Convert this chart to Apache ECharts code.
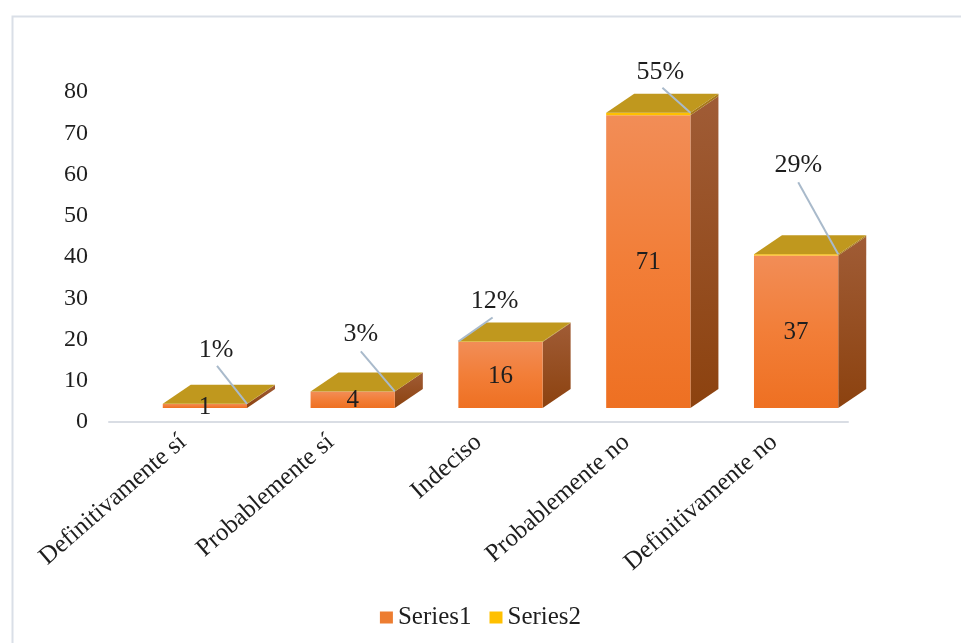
<!DOCTYPE html>
<html>
<head>
<meta charset="utf-8">
<script src="https://cdn.jsdelivr.net/npm/echarts@6/dist/echarts.min.js"></script>
<style>
  html, body { margin: 0; padding: 0; background: #ffffff; }
  #chart { width: 961px; height: 643px; }
</style>
</head>
<body>
<div id="chart"></div>
<script>
// Survey answers
const categories = ['Definitivamente sí', 'Probablemente sí', 'Indeciso', 'Probablemente no', 'Definitivamente no'];
// Series1: number of answers
const series1Values = [1, 4, 16, 71, 37];
// Series2: share of answers (shown as percentage, stacked on Series1)
const series2Values = [0.01, 0.03, 0.12, 0.55, 0.29];
// Value axis
const yMin = 0, yMax = 80, yStep = 10;

// 3D box look
const DEPTH_X = 28, DEPTH_Y = -19;
const BAR_FRAC = 0.57;
const FONT = '"Liberation Serif", "Times New Roman", serif';
const TEXT_COLOR = '#1e1e1e';

// Where each percentage label sits, relative to the top-right front corner of its box
const pctLabelSpots = [
  { text: [-31, -54], from: [-30, -38], to: 'right' },
  { text: [-34, -57], from: [-34, -40], to: 'right' },
  { text: [-48, -40], from: [-50, -24], to: 'left' },
  { text: [-30, -41], from: [-28, -25], to: 'right' },
  { text: [-40, -89], from: [-40, -72], to: 'right' }
];

function boxGeom(api, base, top) {
  const i = api.value(0);
  const p0 = api.coord([i, base]);
  const p1 = api.coord([i, top]);
  const w = api.size([1, 0])[0] * BAR_FRAC;
  return { x0: p0[0] - w / 2, x1: p0[0] + w / 2, yb: p0[1], yt: p1[1], cx: p0[0] };
}

function renderSeries1(params, api) {
  const v = api.value(1);
  const g = boxGeom(api, 0, v);
  return {
    type: 'group',
    children: [
      {
        type: 'polygon',
        shape: { points: [[g.x1, g.yt], [g.x1 + DEPTH_X, g.yt + DEPTH_Y], [g.x1 + DEPTH_X, g.yb + DEPTH_Y], [g.x1, g.yb]] },
        style: {
          fill: new echarts.graphic.LinearGradient(0, 0, 0, 1, [
            { offset: 0, color: '#A05C36' }, { offset: 1, color: '#8C420F' }
          ])
        }
      },
      {
        type: 'rect',
        shape: { x: g.x0, y: g.yt, width: g.x1 - g.x0, height: g.yb - g.yt },
        style: {
          fill: new echarts.graphic.LinearGradient(0, 0, 0, 1, [
            { offset: 0, color: '#F28D57' }, { offset: 0.5, color: '#F27E38' }, { offset: 1, color: '#EE7022' }
          ])
        }
      },
      {
        type: 'text',
        z2: 100,
        style: {
          text: String(v), x: g.cx, y: (g.yt + g.yb) / 2 + 1,
          align: 'center', verticalAlign: 'middle', font: '25px ' + FONT, fill: TEXT_COLOR
        }
      }
    ]
  };
}

function renderSeries2(params, api) {
  const v = api.value(1);
  const base = api.value(2);
  const g = boxGeom(api, base, base + v);
  const spot = pctLabelSpots[params.dataIndex];
  const rx = g.x1, ry = g.yt;
  const tx = spot.to === 'right' ? g.x1 : g.x0;
  return {
    type: 'group',
    children: [
      {
        type: 'polygon',
        shape: { points: [[g.x1, g.yt], [g.x1 + DEPTH_X, g.yt + DEPTH_Y], [g.x1 + DEPTH_X, g.yb + DEPTH_Y], [g.x1, g.yb]] },
        style: { fill: '#A8781A' }
      },
      {
        type: 'rect',
        shape: { x: g.x0, y: g.yt, width: g.x1 - g.x0, height: Math.max(g.yb - g.yt, 0) },
        style: { fill: '#FFC000' }
      },
      {
        type: 'polygon',
        shape: { points: [[g.x0, g.yt], [g.x1, g.yt], [g.x1 + DEPTH_X, g.yt + DEPTH_Y], [g.x0 + DEPTH_X, g.yt + DEPTH_Y]] },
        style: { fill: '#C0981E' }
      },
      {
        type: 'line',
        z2: 50,
        shape: { x1: rx + spot.from[0], y1: ry + spot.from[1], x2: tx, y2: ry },
        style: { stroke: '#A9BACB', lineWidth: 2 }
      },
      {
        type: 'text',
        z2: 100,
        style: {
          text: Math.round(v * 100) + '%', x: rx + spot.text[0], y: ry + spot.text[1],
          align: 'center', verticalAlign: 'middle', font: '26px ' + FONT, fill: TEXT_COLOR
        }
      }
    ]
  };
}

const chart = echarts.init(document.getElementById('chart'), null, { renderer: 'canvas' });

chart.setOption({
  backgroundColor: '#ffffff',
  animation: false,
  graphic: [{
    type: 'rect',
    left: 10, top: 14,
    shape: { width: 1000, height: 700 },
    style: { fill: 'none', stroke: '#DADFE7', lineWidth: 2 },
    silent: true
  }],
  legend: {
    data: ['Series1', 'Series2'],
    bottom: 8,
    left: 'center',
    icon: 'rect',
    itemWidth: 13,
    itemHeight: 12,
    itemGap: 18,
    textStyle: { fontFamily: FONT, fontSize: 25, color: TEXT_COLOR }
  },
  grid: [
    { left: 109, right: 113, top: 92, bottom: 221 },
    { left: 131, right: 91, top: 78, bottom: 235 }
  ],
  xAxis: [
    {
      type: 'category', gridIndex: 0, data: categories,
      axisLine: { lineStyle: { color: '#D9DDE4', width: 2 } },
      axisTick: { show: false },
      axisLabel: {
        interval: 0, rotate: 41, margin: 17,
        fontFamily: FONT, fontSize: 25, color: TEXT_COLOR
      }
    },
    {
      type: 'category', gridIndex: 1, data: categories,
      show: false
    }
  ],
  yAxis: [
    {
      type: 'value', gridIndex: 0, min: yMin, max: yMax, interval: yStep,
      axisLine: { show: false }, axisTick: { show: false }, splitLine: { show: false },
      axisLabel: { margin: 21, fontFamily: FONT, fontSize: 24, color: TEXT_COLOR }
    },
    {
      type: 'value', gridIndex: 1, min: yMin, max: yMax, interval: yStep, show: false,
      splitLine: { show: false }
    }
  ],
  series: [
    {
      name: 'Series1',
      type: 'custom',
      xAxisIndex: 1, yAxisIndex: 1,
      itemStyle: { color: '#ED7D31' },
      renderItem: renderSeries1,
      encode: { x: 0, y: 1 },
      data: series1Values.map((v, i) => [i, v])
    },
    {
      name: 'Series2',
      type: 'custom',
      xAxisIndex: 1, yAxisIndex: 1,
      itemStyle: { color: '#FFC000' },
      renderItem: renderSeries2,
      encode: { x: 0, y: 1 },
      data: series2Values.map((v, i) => [i, v, series1Values[i]])
    }
  ]
});
</script>
</body>
</html>
